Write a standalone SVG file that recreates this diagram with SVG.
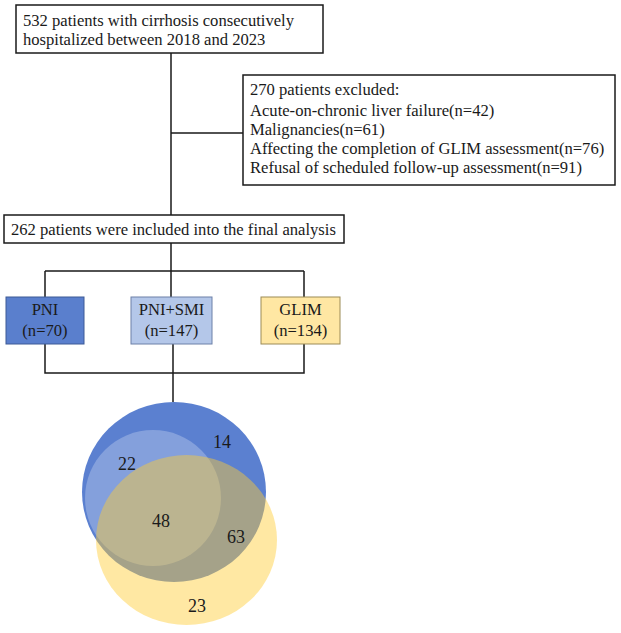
<svg xmlns="http://www.w3.org/2000/svg" width="621" height="633" viewBox="0 0 621 633">
<style>
text{font-family:"Liberation Serif","Times New Roman",serif;font-size:16.6px;fill:#1a1a1a}
.box{fill:#fff;stroke:#1a1a1a;stroke-width:1.5}
.ln{stroke:#1a1a1a;stroke-width:1.5;fill:none}
.c{text-anchor:middle}
.v{font-size:18px}
</style>
<rect width="621" height="633" fill="#fff"/>
<g id="connectors">
<path class="ln" d="M171 53V215M171 133H243M171 243V271M45 271H304M45 271V297M171 271V297M304 271V297M45 344V373H304V344M173 344V373M173 373V402"/>
</g>
<g id="n1"><rect class="box" x="16" y="5" width="307" height="48"/>
<text x="23" y="26">532 patients with cirrhosis consecutively</text>
<text x="23" y="45">hospitalized between 2018 and 2023</text></g>
<g id="n2"><rect class="box" x="243" y="75" width="372" height="110"/>
<text x="250" y="95">270 patients excluded:</text>
<text x="250" y="116">Acute-on-chronic liver failure(n=42)</text>
<text x="250" y="135">Malignancies(n=61)</text>
<text x="250" y="154">Affecting the completion of GLIM assessment(n=76)</text>
<text x="250" y="173">Refusal of scheduled follow-up assessment(n=91)</text></g>
<g id="n3"><rect class="box" x="4" y="215" width="340" height="28"/>
<text x="11" y="235">262 patients were included into the final analysis</text></g>
<g id="pni"><rect x="6" y="297" width="78" height="47" fill="#5A7FCD" stroke="#3c5a96" stroke-width="1"/>
<text class="c" x="45" y="315">PNI</text><text class="c" x="45" y="336">(n=70)</text></g>
<g id="pnismi"><rect x="131" y="297" width="81" height="47" fill="#B4C7E9" stroke="#6d80a8" stroke-width="1"/>
<text class="c" x="171.5" y="315">PNI+SMI</text><text class="c" x="171.5" y="336">(n=147)</text></g>
<g id="glim"><rect x="261" y="297" width="79" height="47" fill="#FFE7A3" stroke="#9c8b57" stroke-width="1"/>
<text class="c" x="300.5" y="315">GLIM</text><text class="c" x="300.5" y="336">(n=134)</text></g>
<g id="venn">
<ellipse cx="174" cy="492" rx="92" ry="90" fill="#5B80D0"/>
<ellipse cx="153" cy="498" rx="68" ry="68" fill="#fff" fill-opacity="0.25"/>
<ellipse cx="186.5" cy="540" rx="90.5" ry="85" fill="#FFCC33" fill-opacity="0.45"/>
<text class="c v" x="222" y="448">14</text>
<text class="c v" x="127" y="470">22</text>
<text class="c v" x="161" y="527">48</text>
<text class="c v" x="236" y="543">63</text>
<text class="c v" x="197" y="612">23</text>
</g>
</svg>
